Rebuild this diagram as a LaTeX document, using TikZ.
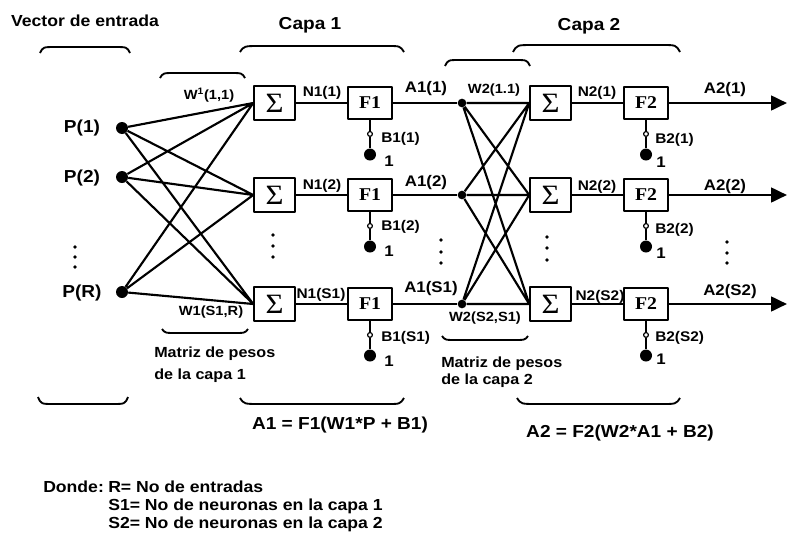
\documentclass[tikz,border=0pt]{standalone}
\usepackage{fontspec}
\setmainfont{Liberation Sans}[FakeStretch=1.1]
\newfontfamily\actfont{Liberation Serif}[FakeStretch=1.1]
\usepackage{tikz}
\usetikzlibrary{arrows.meta,positioning}

\begin{document}
\begin{tikzpicture}[x=0.75pt,y=-0.75pt,font=\bfseries,line join=round,node distance=8pt,
 sumbox/.style={draw,line width=1.4pt,minimum width=30.5pt,minimum height=26pt,inner sep=0pt,font=\actfont\fontsize{21}{21}\selectfont},
 actbox/.style={draw,line width=1.4pt,minimum width=33pt,minimum height=24.5pt,inner sep=0pt,font=\actfont\bfseries\fontsize{13.5}{14}\selectfont},
 indot/.style={circle,fill,inner sep=0pt,minimum size=9pt},
 adot/.style={circle,fill,inner sep=0pt,minimum size=6.5pt},
 biasdot/.style={circle,fill,inner sep=0pt,minimum size=9pt},
 tap/.style={circle,draw,fill=white,line width=0.9pt,inner sep=0pt,minimum size=3.6pt},
 wire/.style={line width=1.8pt},
 xwire/.style={line width=1.6pt},
 outwire/.style={line width=2pt,-{Triangle[length=12pt,width=11pt]}},
 brace/.style={line width=1.4pt},
 head/.style={inner sep=0pt,font=\bfseries\fontsize{13}{15}\selectfont},
 plbl/.style={inner sep=0pt,font=\bfseries\fontsize{13}{15}\selectfont},
 albl/.style={inner sep=0pt,font=\bfseries\fontsize{11.5}{13}\selectfont},
 nlbl/.style={inner sep=0pt,font=\bfseries\fontsize{10.5}{12}\selectfont},
 wlbl/.style={inner sep=0pt,font=\bfseries\fontsize{10}{12}\selectfont},
 blbl/.style={inner sep=0pt,font=\bfseries\fontsize{10.5}{12}\selectfont},
 note/.style={inner sep=0pt,align=left,font=\bfseries\fontsize{11}{16.5}\selectfont},
 legend/.style={inner sep=0pt,anchor=west,font=\bfseries\fontsize{12}{14}\selectfont}]
\useasboundingbox[fill=white] (0,0) rectangle (788,546);

% titles
\node[head,font=\bfseries\fontsize{12}{14}\selectfont] (vec) at (85,21) {Vector de entrada};
\node[head] (capa1) at (310,25) {Capa 1};
\node[head] (capa2) at (589,26) {Capa 2};

% inputs
\node[indot] (p1) at (122,128) {};
\node[indot] (p2) at (122,177) {};
\node[indot] (pR) at (122,292) {};
\node[plbl] (lp1) at (82,128) {P(1)};
\node[plbl] (lp2) at (82,178) {P(2)};
\node[plbl] (lpR) at (82,293) {P(R)};

% layer 1
\node[sumbox] (s11) at (274.5,103) {Σ};
\node[sumbox] (s12) at (274.5,195) {Σ};
\node[sumbox] (s13) at (274.5,304) {Σ};
\node[actbox] (f11) at (370,103) {F1};
\node[actbox] (f12) at (370,195) {F1};
\node[actbox] (f13) at (370,304) {F1};
\node[tap,below=of f11] (t11) {};
\node[tap,below=of f12] (t12) {};
\node[tap,below=of f13] (t13) {};
\node[biasdot,below=8.5pt of t11] (b11) {};
\node[biasdot,below=8.5pt of t12] (b12) {};
\node[biasdot,below=8.5pt of t13] (b13) {};
\node[adot] (a1) at (462,103) {};
\node[adot] (a2) at (462,195) {};
\node[adot] (a3) at (462,304) {};

% layer 2
\node[sumbox] (s21) at (550.5,103) {Σ};
\node[sumbox] (s22) at (550.5,195) {Σ};
\node[sumbox] (s23) at (550.5,304) {Σ};
\node[actbox] (f21) at (646,103) {F2};
\node[actbox] (f22) at (646,195) {F2};
\node[actbox] (f23) at (646,304) {F2};
\node[tap,below=of f21] (t21) {};
\node[tap,below=of f22] (t22) {};
\node[tap,below=of f23] (t23) {};
\node[biasdot,below=8.5pt of t21] (b21) {};
\node[biasdot,below=8.5pt of t22] (b22) {};
\node[biasdot,below=8.5pt of t23] (b23) {};
\coordinate (o1) at (787,103);
\coordinate (o2) at (787,195);
\coordinate (o3) at (787,304);

% weights
\draw[xwire] (p1)--(s11.west) (p1)--(s12.west) (p1)--(s13.west)
 (p2)--(s11.west) (p2)--(s12.west) (p2)--(s13.west)
 (pR)--(s11.west) (pR)--(s12.west) (pR)--(s13.west);
\draw[xwire] (a1)--(s21.west) (a1)--(s22.west) (a1)--(s23.west)
 (a2)--(s21.west) (a2)--(s22.west) (a2)--(s23.west)
 (a3)--(s21.west) (a3)--(s22.west) (a3)--(s23.west);

% signal lines
\draw[wire] (s11)--(f11) (s12)--(f12) (s13)--(f13);
\draw[wire] (f11)--(a1) (f12)--(a2) (f13)--(a3);
\draw[wire] (s21)--(f21) (s22)--(f22) (s23)--(f23);
\draw[outwire] (f21)--(o1);
\draw[outwire] (f22)--(o2);
\draw[outwire] (f23)--(o3);
\draw[wire] (f11)--(t11)--(b11) (f12)--(t12)--(b12) (f13)--(t13)--(b13);
\draw[wire] (f21)--(t21)--(b21) (f22)--(t22)--(b22) (f23)--(t23)--(b23);

% labels
\node[wlbl] (w11) at (209,95) {W\textsuperscript{1}(1,1)};
\node[wlbl] (w1sr) at (211,312) {W1(S1,R)};
\node[nlbl] (n11) at (322,93) {N1(1)};
\node[nlbl] (n12) at (322,186) {N1(2)};
\node[nlbl] (n13) at (321,295) {N1(S1)};
\node[albl] (la1) at (426,89) {A1(1)};
\node[albl] (la2) at (426,183) {A1(2)};
\node[albl] (la3) at (431,289) {A1(S1)};
\node[blbl,anchor=west] (lb11) at (381,139) {B1(1)};
\node[blbl,anchor=west] (lb12) at (381,227) {B1(2)};
\node[blbl,anchor=west] (lb13) at (381,338) {B1(S1)};
\node[albl] (u11) at (389,161) {1};
\node[albl] (u12) at (389,251) {1};
\node[albl] (u13) at (389,361) {1};
\node[wlbl] (w21) at (494,90) {W2(1.1)};
\node[wlbl] (w2ss) at (485,318) {W2(S2,S1)};
\node[nlbl] (n21) at (597,93) {N2(1)};
\node[nlbl] (n22) at (597,187) {N2(2)};
\node[nlbl] (n23) at (600,297) {N2(S2)};
\node[albl] (la21) at (725,90) {A2(1)};
\node[albl] (la22) at (725,187) {A2(2)};
\node[albl] (la23) at (730,292) {A2(S2)};
\node[blbl,anchor=west] (lb21) at (655,140) {B2(1)};
\node[blbl,anchor=west] (lb22) at (655,230) {B2(2)};
\node[blbl,anchor=west] (lb23) at (655,338) {B2(S2)};
\node[albl] (u21) at (661,162) {1};
\node[albl] (u22) at (661,253) {1};
\node[albl] (u23) at (661,359) {1};

% vertical dots
\fill (75,247) circle (1.4pt) (75,257) circle (1.4pt) (75,267) circle (1.4pt);
\fill (273,235) circle (1.4pt) (273,246) circle (1.4pt) (273,257) circle (1.4pt);
\fill (441,240) circle (1.4pt) (441,252) circle (1.4pt) (441,263) circle (1.4pt);
\fill (547,237) circle (1.4pt) (547,248) circle (1.4pt) (547,260) circle (1.4pt);
\fill (727,242) circle (1.4pt) (727,253) circle (1.4pt) (727,263) circle (1.4pt);

% braces
\draw[brace] (40,53) .. controls (43,47) .. (56,47) -- (114,47) .. controls (127,47) .. (130,53);
\draw[brace] (160,78) .. controls (163,73) .. (175,73) -- (230,73) .. controls (242,73) .. (245,78);
\draw[brace] (240,52) .. controls (244,46) .. (260,46) -- (388,46) .. controls (400,46) .. (404,52);
\draw[brace] (445,66) .. controls (448,60) .. (460,60) -- (515,60) .. controls (527,60) .. (530,66);
\draw[brace] (513,52) .. controls (517,45) .. (533,45) -- (662,45) .. controls (676,45) .. (680,52);
\draw[brace] (38,397) .. controls (41,404) .. (54,404) -- (112,404) .. controls (125,404) .. (128,397);
\draw[brace] (162,329) .. controls (165,333) .. (177,333) -- (233,333) .. controls (245,333) .. (248,329);
\draw[brace] (240,398) .. controls (244,404) .. (260,404) -- (388,404) .. controls (400,404) .. (404,398);
\draw[brace] (442,336) .. controls (445,340) .. (457,340) -- (513,340) .. controls (525,340) .. (528,336);
\draw[brace] (517,398) .. controls (521,404) .. (537,404) -- (662,404) .. controls (676,404) .. (680,398);

% notes and formulas
\node[note,anchor=west] (m1) at (154,364.5) {Matriz de pesos\\de la capa 1};
\node[note,anchor=west,font=\bfseries\fontsize{11}{13}\selectfont] (m2) at (441,372.5) {Matriz de pesos\\de la capa 2};
\node[head] (eq1) at (340,425) {A1 = F1(W1*P + B1)};
\node[head] (eq2) at (620,433) {A2 = F2(W2*A1 + B2)};

% legend
\node[legend] (donde) at (43,487) {Donde:};
\node[legend] (r) at (108,487) {R= No de entradas};
\node[legend] (s1) at (108,506) {S1= No de neuronas en la capa 1};
\node[legend] (s2) at (108,524) {S2= No de neuronas en la capa 2};
\end{tikzpicture}
\end{document}
